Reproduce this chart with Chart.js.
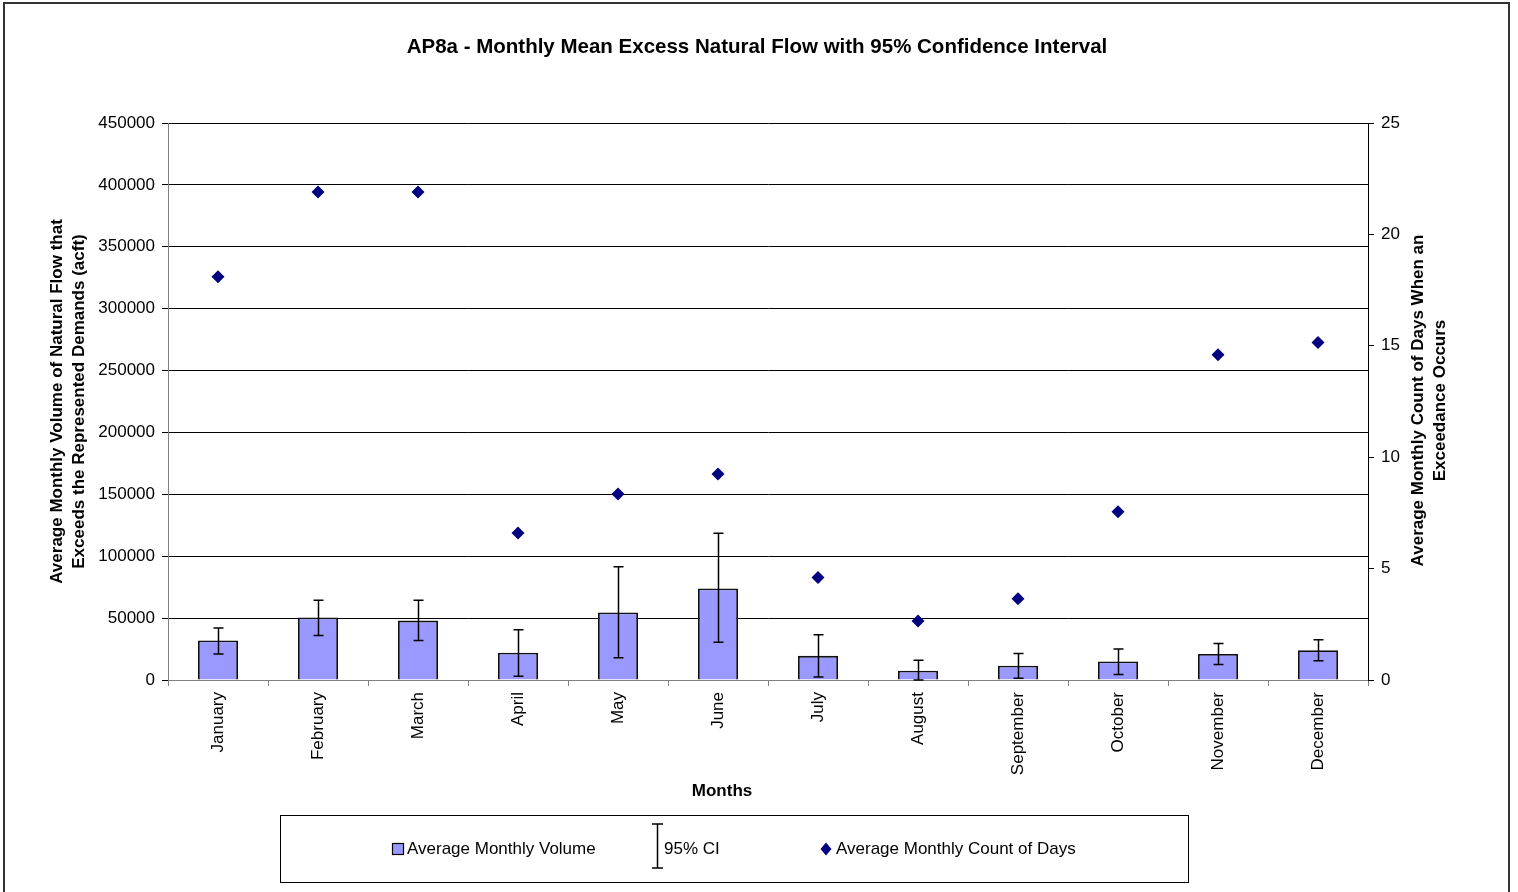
<!DOCTYPE html>
<html>
<head>
<meta charset="utf-8">
<title>AP8a - Monthly Mean Excess Natural Flow</title>
<script src="https://cdn.jsdelivr.net/npm/chart.js@4/dist/chart.umd.min.js"></script>
<style>
  html, body { margin: 0; padding: 0; background: #fff; }
  canvas { display: block; }
</style>
</head>
<body>
<canvas id="myChart" width="1518" height="892"></canvas>
<script>
const months = ['January', 'February', 'March', 'April', 'May', 'June',
  'July', 'August', 'September', 'October', 'November', 'December'];

// average monthly volume (acft)
const volume = [32000, 50500, 48000, 22000, 54500, 74000, 19500, 7500, 11500, 15000, 21000, 24000];
// 95% confidence interval ends
const ciLow  = [21000, 36000, 32000, 3000, 18000, 30500, 2500, 0, 1500, 4500, 12500, 15500];
const ciHigh = [42000, 64500, 64500, 40500, 91500, 118500, 36500, 16000, 21500, 25000, 29500, 32500];
// average monthly count of days
const days = [18.1, 21.9, 21.9, 6.6, 8.35, 9.25, 4.6, 2.65, 3.65, 7.55, 14.6, 15.15];

const volumeTicks = [0, 50000, 100000, 150000, 200000, 250000, 300000, 350000, 400000, 450000];
const dayTicks = [0, 5, 10, 15, 20, 25];

const FONT = "'Liberation Sans', Arial, sans-serif";
Chart.defaults.font.family = FONT;
Chart.defaults.font.size = 17;
Chart.defaults.color = '#000';

// error bars + titles + legend + frame
const extras = {
  id: 'extras',
  afterDatasetsDraw(chart) {
    const ctx = chart.ctx;
    const meta = chart.getDatasetMeta(0);
    const y = chart.scales.y;
    ctx.save();
    ctx.strokeStyle = '#000';
    ctx.lineWidth = 1.5;
    meta.data.forEach((bar, i) => {
      const x = Math.round(bar.x) + 0.5;
      const yl = y.getPixelForValue(ciLow[i]);
      const yh = y.getPixelForValue(ciHigh[i]);
      ctx.beginPath();
      ctx.moveTo(x, yl); ctx.lineTo(x, yh);
      ctx.moveTo(x - 5, yl); ctx.lineTo(x + 5, yl);
      ctx.moveTo(x - 5, yh); ctx.lineTo(x + 5, yh);
      ctx.stroke();
    });
    ctx.restore();
  },
  afterDraw(chart) {
    const ctx = chart.ctx;
    const area = chart.chartArea;
    ctx.save();

    // outer frame
    ctx.strokeStyle = '#333';
    ctx.lineWidth = 2;
    ctx.strokeRect(4, 3, 1505, 900);

    // title
    ctx.fillStyle = '#000';
    ctx.font = 'bold 20.5px ' + FONT;
    ctx.textAlign = 'center';
    ctx.textBaseline = 'middle';
    ctx.fillText('AP8a - Monthly Mean Excess Natural Flow with 95% Confidence Interval', 757, 47);

    // x axis title
    ctx.font = 'bold 17px ' + FONT;
    ctx.fillText('Months', 722, 791);

    // right axis title, reading bottom to top
    ctx.save();
    ctx.translate(1429, (area.top + area.bottom) / 2 - 1);
    ctx.rotate(-Math.PI / 2);
    ctx.fillText('Average Monthly Count of Days When an', 0, -11);
    ctx.fillText('Exceedance Occurs', 0, 11);
    ctx.restore();

    // legend box
    ctx.strokeStyle = '#000';
    ctx.lineWidth = 1;
    ctx.strokeRect(280.5, 815.5, 908, 67);
    const ly = 849;
    ctx.font = '17px ' + FONT;
    ctx.textAlign = 'left';
    ctx.textBaseline = 'middle';

    ctx.fillStyle = '#9999FF';
    ctx.fillRect(392.5, 843.5, 11, 11);
    ctx.strokeStyle = '#000';
    ctx.lineWidth = 1.2;
    ctx.strokeRect(392.5, 843.5, 11, 11);
    ctx.fillStyle = '#000';
    ctx.fillText('Average Monthly Volume', 407, ly);

    ctx.lineWidth = 1.5;
    ctx.beginPath();
    ctx.moveTo(657.5, 824); ctx.lineTo(657.5, 868);
    ctx.moveTo(652, 824); ctx.lineTo(663, 824);
    ctx.moveTo(652, 868); ctx.lineTo(663, 868);
    ctx.stroke();
    ctx.fillText('95% CI', 664, ly);

    ctx.fillStyle = '#000080';
    ctx.beginPath();
    ctx.moveTo(826, ly - 6.5); ctx.lineTo(831.5, ly); ctx.lineTo(826, ly + 6.5); ctx.lineTo(820.5, ly);
    ctx.closePath();
    ctx.fill();
    ctx.fillStyle = '#000';
    ctx.fillText('Average Monthly Count of Days', 836, ly);

    ctx.restore();
  }
};

const data = {
  labels: months,
  datasets: [
    {
      type: 'bar',
      label: 'Average Monthly Volume',
      data: volume,
      yAxisID: 'y',
      backgroundColor: '#9999FF',
      borderColor: '#111',
      borderWidth: 1.8,
      barPercentage: 0.4,
      categoryPercentage: 1,
      order: 2
    },
    {
      type: 'line',
      label: 'Average Monthly Count of Days',
      data: days,
      yAxisID: 'y2',
      showLine: false,
      pointStyle: 'rectRot',
      pointRadius: 6.5,
      pointBackgroundColor: '#000080',
      pointBorderColor: '#000080',
      pointBorderWidth: 0,
      order: 1
    }
  ]
};

const config = {
  type: 'bar',
  data: data,
  plugins: [extras],
  options: {
    responsive: false,
    animation: false,
    layout: { padding: { top: 123, bottom: 82, left: 0, right: 0 } },
    plugins: {
      legend: { display: false },
      title: { display: false },
      tooltip: { enabled: false }
    },
    scales: {
      x: {
        offset: true,
        afterFit(scale) { scale.height = 130; },
        grid: {
          offset: true,
          drawOnChartArea: false,
          drawTicks: true,
          tickLength: 6,
          color: '#808080'
        },
        border: { color: '#808080', width: 1 },
        ticks: {
          autoSkip: false,
          maxRotation: 90,
          minRotation: 90,
          padding: 6,
          font: { size: 17 }
        }
      },
      y: {
        position: 'left',
        min: 0,
        max: 450000,
        afterFit(scale) { scale.width = 168; },
        afterBuildTicks(scale) { scale.ticks = volumeTicks.map(v => ({ value: v })); },
        grid: {
          color: ctx => (ctx.tick && ctx.tick.value === 0) ? '#808080' : '#000',
          tickColor: '#000',
          tickLength: 6,
          lineWidth: 1
        },
        border: { color: '#808080', width: 1 },
        ticks: {
          padding: 7,
          font: { size: 17 },
          callback: v => String(v)
        },
        title: {
          display: true,
          text: ['Average Monthly Volume of Natural Flow that', 'Exceeds the Represented Demands (acft)'],
          font: { size: 17, weight: 'bold', lineHeight: 1.3 },
          padding: { top: 46, bottom: 0 }
        }
      },
      y2: {
        position: 'right',
        min: 0,
        max: 25,
        afterFit(scale) { scale.width = 150; },
        afterBuildTicks(scale) { scale.ticks = dayTicks.map(v => ({ value: v })); },
        grid: {
          drawOnChartArea: false,
          color: '#000',
          tickLength: 6
        },
        border: { color: '#000', width: 1 },
        ticks: {
          padding: 7,
          font: { size: 17 }
        }
      }
    }
  }
};

const myChart = new Chart(document.getElementById('myChart'), config);
</script>
</body>
</html>
